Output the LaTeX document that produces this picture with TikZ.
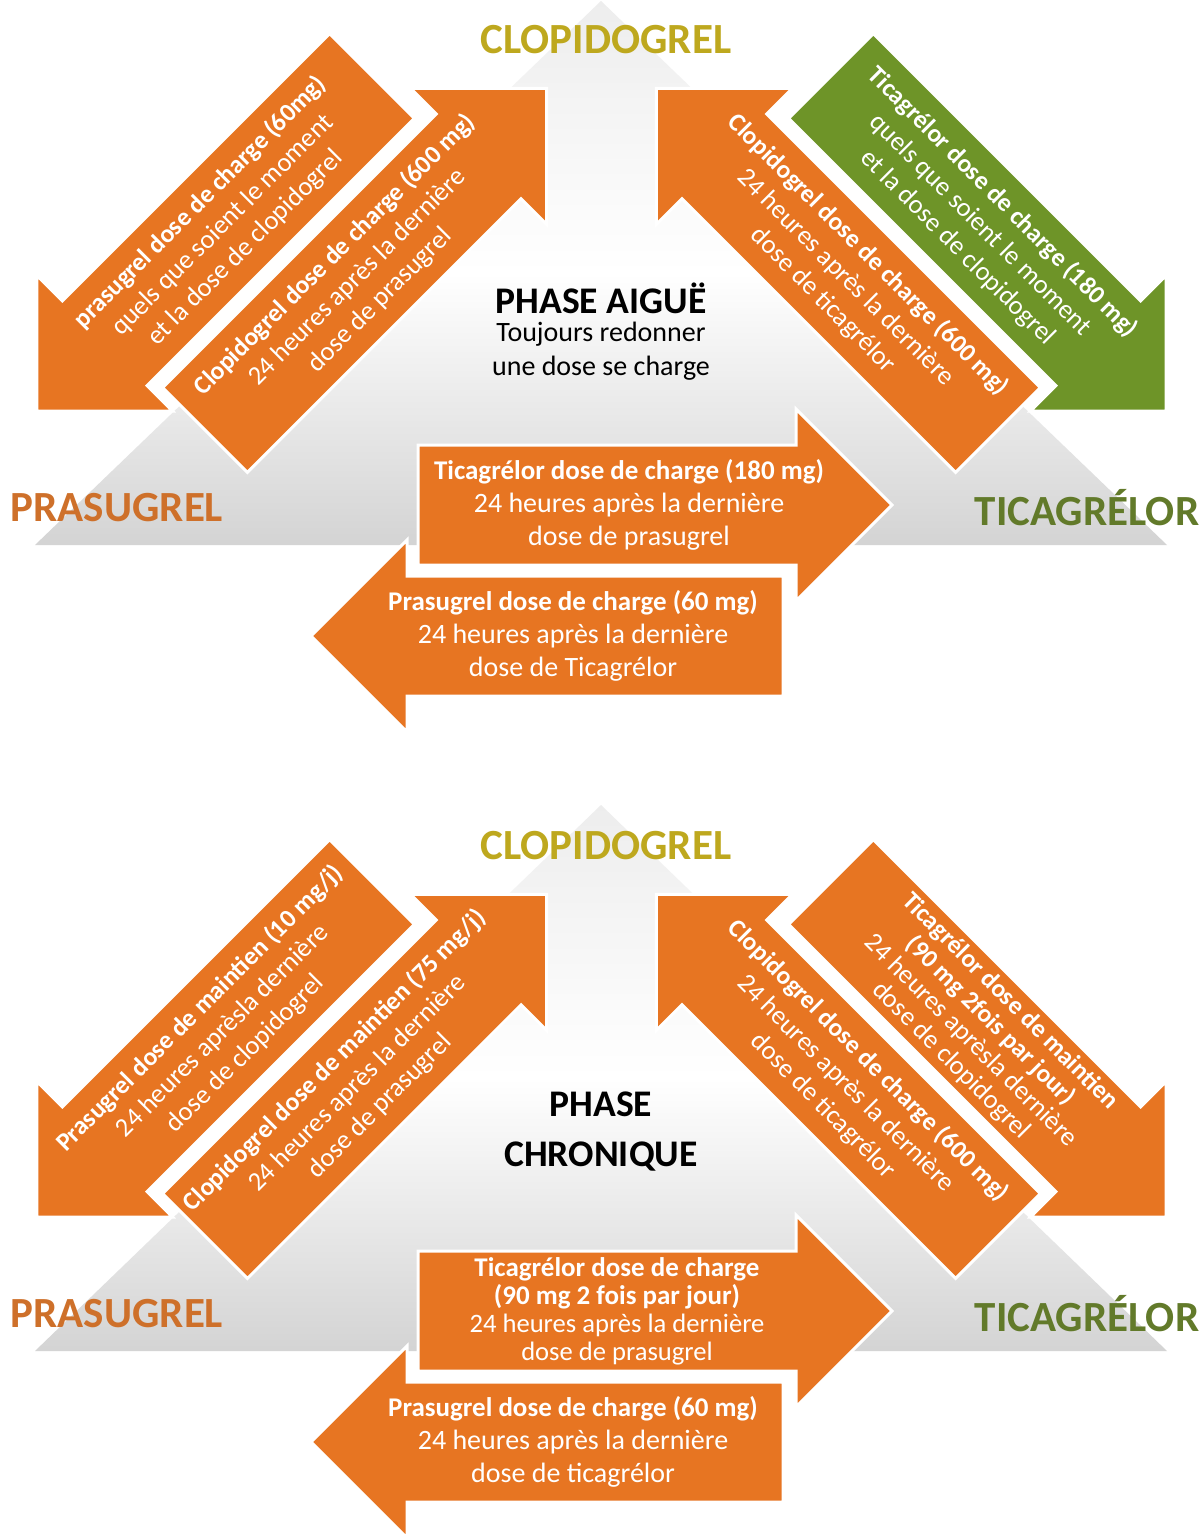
\documentclass[tikz,border=0pt]{standalone}
\usepackage{fontspec}
\setmainfont{Carlito}
\usetikzlibrary{calc}
\definecolor{doseorange}{RGB}{231,117,34}
\definecolor{dosegreen}{RGB}{110,148,40}
\definecolor{clopicol}{RGB}{190,168,30}
\definecolor{prasucol}{RGB}{206,112,42}
\definecolor{ticacol}{RGB}{98,122,42}

% bold head line of an arrow text
\newcommand{\hdsize}{13.5}
\newcommand{\hd}[1]{{\fontsize{\hdsize}{16.5}\selectfont\bfseries #1}}
% one switching arrow: name, tail, direction, length, fill, text options, text
\newcommand{\dosearrow}[7]{%
  \begin{scope}[shift={#2}, rotate=#3]
    \filldraw[fill=#5, draw=white, line width=1.5pt]
      (0,-60) -- (#4-96,-60) -- (#4-96,-96) -- (#4,0) -- (#4-96,96) -- (#4-96,60) -- (0,60) -- cycle;
  \end{scope}
  \node[dosetext, #6] (#1) at ($#2+(#3:{(#4-96)/2+22})$) {#7};
}

\begin{document}
\begin{tikzpicture}[
  x=0.5pt, y=0.5pt,
  dosetext/.style={text=white, align=center, inner sep=0pt, font=\fontsize{14}{16.5}\selectfont},
  diag/.style={font=\fontsize{13.3}{16}\selectfont, execute at begin node={\renewcommand{\hdsize}{12.8}}},
  tight/.style={font=\fontsize{13.3}{14}\selectfont},
  drug/.style={text=#1, font=\fontsize{21.5}{24}\selectfont\bfseries, inner sep=0pt},
  phase/.style={align=center, inner sep=0pt, font=\fontsize{18.8}{25}\selectfont\bfseries},
  note/.style={align=center, inner sep=0pt, font=\fontsize{14}{17}\selectfont},
  base/.style={top color=gray!14, bottom color=gray!34, middle color=white}]
\useasboundingbox (0,0) rectangle (1204,-1537);
\fill[white] (0,0) rectangle (1204,-1537);

% acute phase
\shade[base] (35,-545) -- (601,-1) -- (1167,-545) -- cycle;
\dosearrow{prasOut}{(372,-76)}{225}{474}{doseorange}{diag, rotate=45}{\hd{prasugrel dose de charge (60mg)}\\quels que soient le moment\\et la dose de clopidogrel}
\dosearrow{clopLeft}{(205,-430)}{45}{483}{doseorange}{diag, rotate=45}{\hd{Clopidogrel dose de charge (600 mg)}\\24 heures après la dernière\\dose de prasugrel}
\dosearrow{ticaOut}{(831,-76)}{-45}{474}{dosegreen}{diag, rotate=-45}{\hd{Ticagrélor dose de charge (180 mg)}\\quels que soient le moment\\et la dose de clopidogrel}
\dosearrow{clopRight}{(998,-430)}{135}{483}{doseorange}{diag, rotate=-45}{\hd{Clopidogrel dose de charge (600 mg)}\\24 heures après la dernière\\dose de ticagrélor}
\dosearrow{ticaAcross}{(418,-505)}{0}{474}{doseorange}{}{\hd{Ticagrélor dose de charge (180 mg)}\\24 heures après la dernière\\dose de prasugrel}
\dosearrow{prasAcross}{(783,-636)}{180}{472}{doseorange}{}{\hd{Prasugrel dose de charge (60 mg)}\\24 heures après la dernière\\dose de Ticagrélor}
\node[drug=clopicol] (clopTop) at (606,-40) {CLOPIDOGREL};
\node[drug=prasucol] (prasTop) at (117,-508) {PRASUGREL};
\node[drug=ticacol] (ticaTop) at (1087,-508) {TICAGRÉLOR};
\node[phase] (aigue) at (601,-298) {PHASE AIGUË};
\node[note] (aigueNote) at (601,-351) {Toujours redonner\\une dose se charge};

% chronic phase
\shade[base] (35,-1351) -- (601,-805) -- (1167,-1351) -- cycle;
\dosearrow{prasOutB}{(372,-882)}{225}{474}{doseorange}{diag, rotate=45}{\hd{Prasugrel dose de maintien (10 mg/j)}\\24 heures aprèsla dernière\\dose de clopidogrel}
\dosearrow{clopLeftB}{(205,-1236)}{45}{483}{doseorange}{diag, rotate=45}{\hd{Clopidogrel dose de maintien (75 mg/j)}\\24 heures après la dernière\\dose de prasugrel}
\dosearrow{ticaOutB}{(831,-882)}{-45}{474}{doseorange}{diag, rotate=-45, tight}{\hd{Ticagrélor dose de maintien}\\\hd{(90 mg 2fois par jour)}\\24 heures aprèsla dernière\\dose de clopidogrel}
\dosearrow{clopRightB}{(998,-1236)}{135}{483}{doseorange}{diag, rotate=-45}{\hd{Clopidogrel dose de charge (600 mg)}\\24 heures après la dernière\\dose de ticagrélor}
\dosearrow{ticaAcrossB}{(418,-1311)}{0}{474}{doseorange}{tight, xshift=-6pt}{\hd{Ticagrélor dose de charge}\\\hd{(90 mg 2 fois par jour)}\\24 heures après la dernière\\dose de prasugrel}
\dosearrow{prasAcrossB}{(783,-1442)}{180}{472}{doseorange}{}{\hd{Prasugrel dose de charge (60 mg)}\\24 heures après la dernière\\dose de ticagrélor}
\node[drug=clopicol] (clopBot) at (606,-846) {CLOPIDOGREL};
\node[drug=prasucol] (prasBot) at (117,-1314) {PRASUGREL};
\node[drug=ticacol] (ticaBot) at (1087,-1314) {TICAGRÉLOR};
\node[phase] (chronique) at (601,-1132) {PHASE\\CHRONIQUE};
\end{tikzpicture}
\end{document}
